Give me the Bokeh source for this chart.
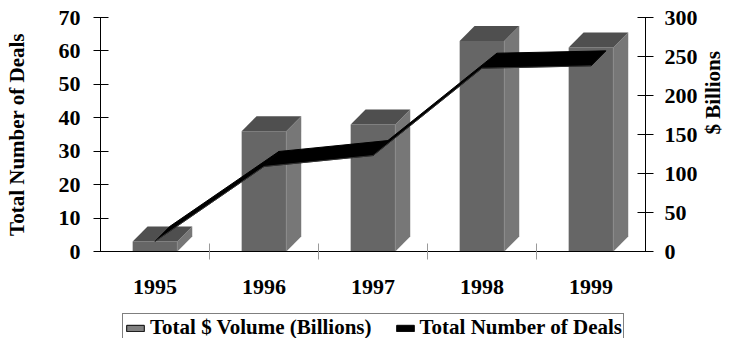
import math
from bokeh.plotting import figure
from bokeh.layouts import column
from bokeh.models import Range1d, LinearAxis, FixedTicker, Legend, LegendItem
from bokeh.embed import file_html
from bokeh.resources import INLINE

# ---- data ----
years = ["1995", "1996", "1997", "1998", "1999"]
volume = [3, 36, 38, 63, 61]          # bars (left axis)
deals = [13, 109, 123, 235, 238]      # ribbon line (right axis)
left_ticks = [0, 10, 20, 30, 40, 50, 60, 70]
right_ticks = [0, 50, 100, 150, 200, 250, 300]
legend_labels = ["Total $ Volume (Billions)", "Total Number of Deals"]

FONT = "Liberation Serif"
FS = "21px"
TFS = "22px"

W = 739
BL, BR, BT = 100, 90, 17
FW, FH = W - BL - BR, 234
MAIN_H = 300
LEG_H = 338 - MAIN_H

p = figure(width=W, height=MAIN_H, output_backend="svg", toolbar_location=None,
           x_range=Range1d(0, len(years)), y_range=Range1d(0, 70),
           min_border_left=BL, min_border_right=BR,
           min_border_top=BT, min_border_bottom=MAIN_H - BT - FH)
p.extra_y_ranges = {"right": Range1d(0, 300)}
p.xgrid.visible = False
p.ygrid.visible = False
p.outline_line_color = None
p.background_fill_color = "white"
p.border_fill_color = "white"

# 3D depth offsets converted to data units
DEPTH_PX = 15
dx = DEPTH_PX * len(years) / FW
dyL = DEPTH_PX * 70 / FH
dyR = DEPTH_PX * 300 / FH
hw = 22.5 * len(years) / FW

centers = [i + 0.5 for i in range(len(years))]

# bars
front_l = [c - hw for c in centers]
front_r = [c + hw for c in centers]
side_xs = [[c + hw, c + hw + dx, c + hw + dx, c + hw] for c in centers]
side_ys = [[0, dyL, v + dyL, v] for v in volume]
top_xs = [[c - hw, c + hw, c + hw + dx, c - hw + dx] for c in centers]
top_ys = [[v, v, v + dyL, v + dyL] for v in volume]

p.quad(left=front_l, right=front_r, bottom=[0] * len(volume), top=volume,
       fill_color="#666666", line_color=None)
p.patches(side_xs, side_ys, fill_color="#777777", line_color=None)
p.patches(top_xs, top_ys, fill_color="#4f4f4f", line_color=None)
p.segment(x0=front_r, y0=[0] * len(volume), x1=front_r, y1=volume,
          line_color="#8a8a8a", line_width=1)

# ribbon
rib_xs, rib_ys = [], []
for i in range(len(deals) - 1):
    c0, c1 = centers[i], centers[i + 1]
    d0, d1 = deals[i], deals[i + 1]
    rib_xs.append([c0, c1, c1 + dx, c0 + dx])
    rib_ys.append([d0, d1, d1 + dyR, d0 + dyR])
p.patches(rib_xs, rib_ys, fill_color="black", line_color="black",
          line_width=1, y_range_name="right")
p.line(centers, deals, line_color="#555555", line_width=0.6,
       y_range_name="right")

# axes styling
def style_axis(ax):
    ax.axis_line_color = "black"
    ax.axis_line_width = 1
    ax.major_label_text_font = FONT
    ax.major_label_text_font_style = "bold"
    ax.major_label_text_font_size = TFS
    ax.major_label_text_color = "black"
    ax.axis_label_text_font = FONT
    ax.axis_label_text_font_style = "bold"
    ax.axis_label_text_font_size = FS
    ax.axis_label_text_color = "black"
    ax.minor_tick_line_color = None

xa = p.xaxis[0]
style_axis(xa)
xa.ticker = FixedTicker(ticks=centers, minor_ticks=[1, 2, 3, 4])
xa.major_label_overrides = {c: y for c, y in zip(centers, years)}
xa.major_tick_line_color = None
xa.major_tick_in = 0
xa.major_tick_out = 0
xa.minor_tick_line_color = "#9a9a9a"
xa.minor_tick_in = 8
xa.minor_tick_out = 8
xa.major_label_standoff = 20

ya = p.yaxis[0]
style_axis(ya)
ya.ticker = FixedTicker(ticks=left_ticks)
ya.major_tick_in = 8
ya.major_tick_out = 7
ya.major_tick_line_color = "black"
ya.major_label_standoff = 13
ya.axis_label = "Total Number of Deals"
ya.axis_label_standoff = 27

ra = LinearAxis(y_range_name="right", ticker=FixedTicker(ticks=right_ticks),
                axis_label="$ Billions")
style_axis(ra)
ra.major_tick_in = 8
ra.major_tick_out = 8
ra.major_tick_line_color = "black"
ra.major_label_standoff = 11
ra.axis_label_standoff = 12
if hasattr(ra, "axis_label_orientation"):
    ra.axis_label_orientation = math.pi / 2
p.add_layout(ra, "right")

# legend strip (same borders as the main plot so frames line up)
lf = figure(width=W, height=LEG_H, output_backend="svg", toolbar_location=None,
            x_axis_location=None, y_axis_location=None,
            x_range=Range1d(0, 1), y_range=Range1d(0, 1),
            min_border_left=BL, min_border_right=BR,
            min_border_top=0, min_border_bottom=0)
lf.xgrid.visible = False
lf.ygrid.visible = False
lf.outline_line_color = None
lf.background_fill_color = "white"
lf.border_fill_color = "white"
# legend-only renderers, placed outside the visible range
leg_bar = lf.quad(left=[-3], right=[-2], bottom=[-3], top=[-2],
                  fill_color="#808080", line_color="black", line_width=1)
leg_line = lf.quad(left=[-3], right=[-2], bottom=[-3], top=[-2],
                   fill_color="black", line_color="black", line_width=1)

legend = Legend(items=[LegendItem(label=legend_labels[0], renderers=[leg_bar]),
                       LegendItem(label=legend_labels[1], renderers=[leg_line])],
                orientation="horizontal", location=(22, -4))
legend.label_text_font = FONT
legend.label_text_font_style = "bold"
legend.label_text_font_size = FS
legend.label_text_color = "black"
legend.border_line_color = "black"
legend.border_line_width = 1
legend.background_fill_color = "white"
legend.background_fill_alpha = 1
legend.glyph_width = 22
legend.glyph_height = 8
legend.label_standoff = 4
legend.spacing = 22
legend.padding = 1
legend.margin = 0
legend.label_height = 20
lf.add_layout(legend, "center")

layout = column(p, lf, spacing=0)
open("out.html", "w").write(file_html(layout, INLINE))
